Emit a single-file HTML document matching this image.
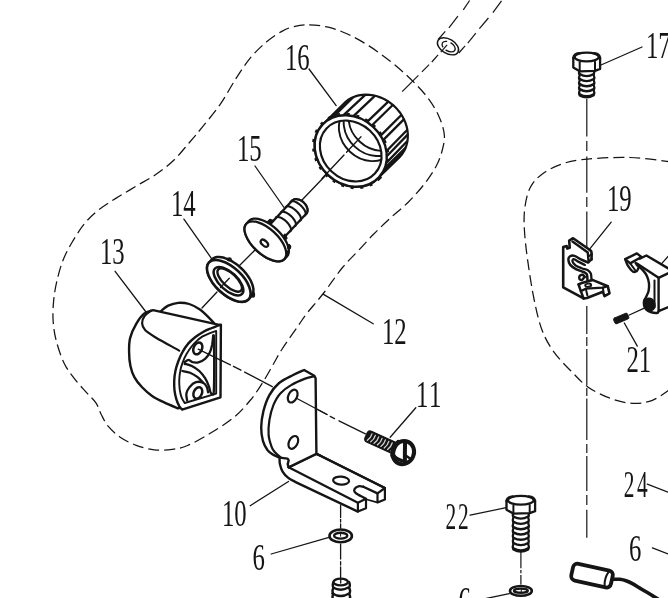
<!DOCTYPE html>
<html><head><meta charset="utf-8"><title>Parts diagram</title>
<style>
html,body{margin:0;padding:0;background:#fff;}
body{width:668px;height:598px;overflow:hidden;font-family:"Liberation Serif",serif;}
svg{display:block;filter:grayscale(1);}
</style></head><body>
<svg width="668" height="598" viewBox="0 0 668 598" stroke-linecap="round" stroke-linejoin="round">
<rect x="0" y="0" width="668" height="598" fill="#ffffff"/>
<path d="M309.2 24.9 C314.8 25 321.9 25.7 328.3 27.2 C334.7 28.7 340.7 30.9 347.5 34 C354.3 37.1 361.8 41.3 369 45.9 C376.2 50.5 383.8 56.1 390.6 61.5 C397.4 66.9 403.8 72.5 409.8 78.3 C415.8 84.1 421.7 90 426.5 96.2 C431.3 102.4 435.5 109 438.5 115.4 C441.5 121.8 443.7 128.8 444.3 134.6 C444.9 140.4 443.6 144.8 442.3 150 C441 155.2 439.3 160.3 436.3 166 C433.3 171.7 429 178.1 424.3 184.1 C419.6 190.1 413.9 196.5 408.2 202.2 C402.5 207.9 396 212.8 390.2 218.2 C384.4 223.5 378.8 228.9 373.5 234.3 C368.2 239.7 363.7 245 358.5 250.5 C353.3 256 348.4 260.3 342.5 267.5 C336.6 274.7 329.3 285.8 323.3 293.5 C317.3 301.2 310.7 308.5 306.7 313.6 C302.7 318.7 303.5 318.1 299.3 324.2 C295.1 330.3 285.7 343.5 281.5 350 C277.3 356.5 277.1 357.7 274 363 C270.9 368.3 266.9 375.8 263 382 C259.1 388.2 255.4 394.1 250.5 400 C245.6 405.9 240.3 412.1 233.5 417.7 C226.7 423.3 217.1 429.2 209.4 433.8 C201.8 438.4 193.8 442.9 187.6 445.5 C181.4 448.1 177.9 448.6 172.3 449.3 C166.8 450 160.3 450.6 154.3 449.9 C148.3 449.2 141.9 447.4 136.2 445.3 C130.5 443.2 124.9 440.4 120.2 437.2 C115.5 434 111.3 430 108.1 426.2 C104.9 422.4 103.1 418 101.1 414.2 C99.1 410.4 98.6 406.8 96.1 403.1 C93.6 399.4 89.8 396.3 86.1 392.1 C82.4 387.9 77.7 383 74 378.1 C70.3 373.2 67 369.3 64 363 C61 356.7 57.9 347.3 56.1 340.2 C54.3 333.1 53.5 326.9 53.1 320.2 C52.7 313.5 53 306.8 53.7 300.1 C54.4 293.4 55.5 286.8 57.1 280.1 C58.7 273.4 60.6 266.3 63.1 260 C65.6 253.7 68.6 248.3 72.1 242.3 C75.6 236.3 79.8 229.5 84.1 224.2 C88.4 218.8 92.8 214.5 98.2 210.2 C103.6 205.8 109.8 202.1 116.2 198.1 C122.6 194.1 129.6 190.1 136.3 186.1 C143 182.1 150.1 178.4 156.4 174.1 C162.7 169.8 168.6 165.2 174 160 C179.4 154.8 184.3 148.4 189 143 C193.7 137.6 196.9 133.8 202.1 127.4 C207.3 121 214.5 112.5 220.2 104.3 C225.9 96.1 231.2 85.9 236.2 78.2 C241.2 70.5 245.2 64.1 250.2 58.1 C255.2 52.1 260.9 46.6 266.3 42.1 C271.7 37.6 277.5 33.7 282.3 31.1 C287.1 28.5 290.5 27.3 295 26.3 C299.5 25.3 303.6 24.8 309.2 24.9 Z" fill="none" stroke="#151515" stroke-width="1.25" stroke-dasharray="11 5" stroke-linecap="butt"/>
<path d="M672 162 C665 161.2 644.1 158 630 157.5 C615.9 157 598.8 158.1 587.6 159.1 C576.4 160.1 570.4 161.2 562.9 163.6 C555.4 166 548.1 169.8 542.7 173.7 C537.3 177.6 533.4 181.6 530.4 187.2 C527.4 192.8 525.9 200.3 524.9 207.4 C523.9 214.5 523.9 221.1 524.4 229.8 C524.9 238.6 526 248.4 527.6 259.9 C529.2 271.4 531.6 287.3 534 299 C536.4 310.7 538.7 321.1 542 330 C545.3 338.9 549 345.1 554 352.1 C559 359.1 566.4 366.4 572.1 372.2 C577.8 378 581.9 382.8 588.2 387.2 C594.6 391.6 602.9 395.6 610.2 398.3 C617.6 401 625.3 403 632.3 403.3 C639.3 403.6 645.8 402.9 652.4 400.3 C659 397.8 668.7 390.1 672 388" fill="none" stroke="#151515" stroke-width="1.25" stroke-dasharray="11 5" stroke-linecap="butt"/>
<line x1="469.6" y1="0.5" x2="463.3" y2="9.9" stroke="#151515" stroke-width="1.2" stroke-linecap="butt"/>
<line x1="457.9" y1="16.2" x2="448.9" y2="27.8" stroke="#151515" stroke-width="1.2" stroke-linecap="butt"/>
<line x1="445.3" y1="31.4" x2="438.1" y2="39.5" stroke="#151515" stroke-width="1.2" stroke-linecap="butt"/>
<line x1="501.5" y1="0.8" x2="492.9" y2="12.6" stroke="#151515" stroke-width="1.2" stroke-linecap="butt"/>
<line x1="488.4" y1="18" x2="479.4" y2="28.7" stroke="#151515" stroke-width="1.2" stroke-linecap="butt"/>
<line x1="475.8" y1="33.2" x2="467.8" y2="43.1" stroke="#151515" stroke-width="1.2" stroke-linecap="butt"/>
<line x1="465.1" y1="45.8" x2="458.8" y2="53" stroke="#151515" stroke-width="1.2" stroke-linecap="butt"/>
<ellipse cx="448" cy="46.3" rx="11.6" ry="7.2" transform="rotate(31 448 46.3)" fill="none" stroke="#151515" stroke-width="1.4" />
<ellipse cx="448.6" cy="46.6" rx="7.2" ry="4.4" transform="rotate(31 448.6 46.6)" fill="none" stroke="#151515" stroke-width="1.3" stroke-dasharray="10 3.5" stroke-linecap="butt"/>
<line x1="447.1" y1="44.9" x2="440.8" y2="52.1" stroke="#151515" stroke-width="1.2" stroke-linecap="butt"/>
<line x1="438.1" y1="54.8" x2="431.8" y2="62" stroke="#151515" stroke-width="1.2" stroke-linecap="butt"/>
<line x1="429.1" y1="64.7" x2="421.9" y2="71.9" stroke="#151515" stroke-width="1.2" stroke-linecap="butt"/>
<line x1="418.4" y1="75.4" x2="402.2" y2="91.6" stroke="#151515" stroke-width="1.2" stroke-linecap="butt"/>
<line x1="361.5" y1="137" x2="326" y2="175" stroke="#151515" stroke-width="1.3" />
<line x1="326" y1="175" x2="302" y2="200" stroke="#151515" stroke-width="1.3" />
<line x1="258" y1="247" x2="239" y2="266" stroke="#151515" stroke-width="1.3" />
<line x1="229" y1="278" x2="220" y2="287" stroke="#151515" stroke-width="1.3" />
<line x1="217" y1="292" x2="202" y2="308" stroke="#151515" stroke-width="1.3" />
<line x1="586.8" y1="99" x2="586.8" y2="136.5" stroke="#151515" stroke-width="1.2" stroke-linecap="butt"/>
<line x1="586.8" y1="141" x2="586.8" y2="151" stroke="#151515" stroke-width="1.2" stroke-linecap="butt"/>
<line x1="586.8" y1="156.5" x2="586.8" y2="192.7" stroke="#151515" stroke-width="1.2" stroke-linecap="butt"/>
<line x1="586.8" y1="197" x2="586.8" y2="207" stroke="#151515" stroke-width="1.2" stroke-linecap="butt"/>
<line x1="586.8" y1="211.4" x2="586.8" y2="247" stroke="#151515" stroke-width="1.2" stroke-linecap="butt"/>
<line x1="586.8" y1="306" x2="586.8" y2="334" stroke="#151515" stroke-width="1.2" stroke-linecap="butt"/>
<line x1="586.8" y1="337" x2="586.8" y2="346" stroke="#151515" stroke-width="1.2" stroke-linecap="butt"/>
<line x1="586.8" y1="349" x2="586.8" y2="385" stroke="#151515" stroke-width="1.2" stroke-linecap="butt"/>
<line x1="586.8" y1="388" x2="586.8" y2="396" stroke="#151515" stroke-width="1.2" stroke-linecap="butt"/>
<line x1="586.8" y1="398.4" x2="586.8" y2="440" stroke="#151515" stroke-width="1.2" stroke-linecap="butt"/>
<line x1="586.8" y1="444" x2="586.8" y2="453" stroke="#151515" stroke-width="1.2" stroke-linecap="butt"/>
<line x1="586.8" y1="456" x2="586.8" y2="491" stroke="#151515" stroke-width="1.2" stroke-linecap="butt"/>
<line x1="586.8" y1="495" x2="586.8" y2="505" stroke="#151515" stroke-width="1.2" stroke-linecap="butt"/>
<line x1="586.8" y1="509.7" x2="586.8" y2="537.8" stroke="#151515" stroke-width="1.2" stroke-linecap="butt"/>
<line x1="198.2" y1="349.2" x2="230.4" y2="364.9" stroke="#151515" stroke-width="1.3" />
<line x1="233.4" y1="366.4" x2="240.9" y2="370.2" stroke="#151515" stroke-width="1.3" />
<line x1="244.6" y1="372.1" x2="272.3" y2="386.6" stroke="#151515" stroke-width="1.3" />
<line x1="296.5" y1="398.2" x2="327" y2="414.5" stroke="#151515" stroke-width="1.3" />
<line x1="330.2" y1="416.4" x2="334.5" y2="418.6" stroke="#151515" stroke-width="1.3" />
<line x1="339" y1="420.8" x2="365.4" y2="433.8" stroke="#151515" stroke-width="1.3" />
<line x1="340.6" y1="505" x2="340.6" y2="517.5" stroke="#151515" stroke-width="1.3" />
<line x1="340.6" y1="519.5" x2="340.6" y2="522" stroke="#151515" stroke-width="1.3" />
<line x1="340.6" y1="524" x2="340.6" y2="528" stroke="#151515" stroke-width="1.3" />
<line x1="340.6" y1="544.1" x2="340.6" y2="559.1" stroke="#151515" stroke-width="1.3" />
<line x1="340.6" y1="561.7" x2="340.6" y2="565" stroke="#151515" stroke-width="1.3" />
<line x1="340.6" y1="567" x2="340.6" y2="578.5" stroke="#151515" stroke-width="1.3" />
<line x1="520.9" y1="552" x2="520.9" y2="568.2" stroke="#151515" stroke-width="1.2" stroke-linecap="butt"/>
<line x1="520.9" y1="570" x2="520.9" y2="573.2" stroke="#151515" stroke-width="1.2" stroke-linecap="butt"/>
<line x1="520.9" y1="575" x2="520.9" y2="584.5" stroke="#151515" stroke-width="1.2" stroke-linecap="butt"/>
<line x1="309" y1="69" x2="336.2" y2="105.6" stroke="#151515" stroke-width="1.3" />
<line x1="255" y1="166" x2="284" y2="207.5" stroke="#151515" stroke-width="1.3" />
<line x1="183.9" y1="219.1" x2="211.4" y2="258.3" stroke="#151515" stroke-width="1.3" />
<line x1="115.1" y1="271.3" x2="146" y2="312" stroke="#151515" stroke-width="1.3" />
<line x1="323.1" y1="294.1" x2="373.2" y2="323.8" stroke="#151515" stroke-width="1.3" />
<line x1="415.8" y1="407.7" x2="390.2" y2="437.2" stroke="#151515" stroke-width="1.3" />
<line x1="250.2" y1="505.7" x2="288.5" y2="481.5" stroke="#151515" stroke-width="1.3" />
<line x1="271.2" y1="554" x2="329" y2="537.3" stroke="#151515" stroke-width="1.3" />
<line x1="470.1" y1="515.1" x2="506.2" y2="507.7" stroke="#151515" stroke-width="1.3" />
<line x1="601" y1="65" x2="642" y2="47" stroke="#151515" stroke-width="1.3" />
<line x1="611.2" y1="222.2" x2="590.2" y2="248.3" stroke="#151515" stroke-width="1.3" />
<line x1="624.3" y1="323" x2="637.3" y2="346.1" stroke="#151515" stroke-width="1.3" />
<line x1="647.3" y1="484.1" x2="668" y2="492.1" stroke="#151515" stroke-width="1.3" />
<line x1="652.4" y1="547.9" x2="668" y2="553.9" stroke="#151515" stroke-width="1.3" />
<line x1="486.5" y1="598.4" x2="509.3" y2="593.6" stroke="#151515" stroke-width="1.3" />
<line x1="661.2" y1="264.1" x2="668" y2="256.5" stroke="#151515" stroke-width="1.3" />
<g><text transform="translate(285 69.5) scale(0.66 1)" font-family="Liberation Serif, serif" font-size="37.5" fill="#151515" letter-spacing="0">16</text></g>
<g><text transform="translate(237 160.5) scale(0.66 1)" font-family="Liberation Serif, serif" font-size="37.5" fill="#151515" letter-spacing="0">15</text></g>
<g><text transform="translate(171 215.5) scale(0.66 1)" font-family="Liberation Serif, serif" font-size="37.5" fill="#151515" letter-spacing="0">14</text></g>
<g><text transform="translate(100 263.5) scale(0.66 1)" font-family="Liberation Serif, serif" font-size="37.5" fill="#151515" letter-spacing="0">13</text></g>
<g><text transform="translate(382 343.5) scale(0.66 1)" font-family="Liberation Serif, serif" font-size="37.5" fill="#151515" letter-spacing="0">12</text></g>
<g><text transform="translate(416 406.5) scale(0.66 1)" font-family="Liberation Serif, serif" font-size="37.5" fill="#151515" letter-spacing="2.5">11</text></g>
<g><text transform="translate(222 526) scale(0.66 1)" font-family="Liberation Serif, serif" font-size="37.5" fill="#151515" letter-spacing="0">10</text></g>
<g><text transform="translate(252.5 570) scale(0.66 1)" font-family="Liberation Serif, serif" font-size="37.5" fill="#151515" letter-spacing="0">6</text></g>
<g><text transform="translate(445.5 528.5) scale(0.57 1)" font-family="Liberation Serif, serif" font-size="37.5" fill="#151515" letter-spacing="3.2">22</text></g>
<g><text transform="translate(646 57.5) scale(0.66 1)" font-family="Liberation Serif, serif" font-size="37.5" fill="#151515" letter-spacing="0">17</text></g>
<g><text transform="translate(607 210.5) scale(0.66 1)" font-family="Liberation Serif, serif" font-size="37.5" fill="#151515" letter-spacing="0">19</text></g>
<g><text transform="translate(626.5 371.5) scale(0.66 1)" font-family="Liberation Serif, serif" font-size="37.5" fill="#151515" letter-spacing="0">21</text></g>
<g><text transform="translate(623.8 497.3) scale(0.57 1)" font-family="Liberation Serif, serif" font-size="37.5" fill="#151515" letter-spacing="4.2">24</text></g>
<g><text transform="translate(629 561) scale(0.66 1)" font-family="Liberation Serif, serif" font-size="37.5" fill="#151515" letter-spacing="0">6</text></g>
<g><text transform="translate(458.5 613) scale(0.66 1)" font-family="Liberation Serif, serif" font-size="37.5" fill="#151515" letter-spacing="0">6</text></g>
<path d="M378.9 177.3 L376.4 179.7 L373.6 181.8 L370.6 183.5 L367.3 184.9 L363.9 185.9 L360.3 186.5 L356.6 186.7 L352.9 186.6 L349.1 186 L345.3 185.1 L341.6 183.8 L338 182.1 L334.6 180.1 L331.3 177.8 L328.2 175.1 L325.4 172.3 L322.8 169.1 L320.6 165.8 L318.7 162.3 L317.1 158.7 L315.9 155.1 L315.1 151.3 L314.7 147.6 L314.6 143.9 L315 140.3 L315.8 136.8 L316.9 133.4 L318.4 130.3 L320.3 127.3 L322.5 124.7 L343.5 104 L346 101.6 L348.8 99.5 L351.9 97.8 L355.1 96.4 L358.6 95.4 L362.2 94.8 L365.8 94.6 L369.6 94.8 L373.4 95.3 L377.1 96.2 L380.8 97.6 L384.5 99.2 L387.9 101.2 L391.2 103.6 L394.3 106.2 L397.1 109.1 L399.7 112.2 L401.9 115.5 L403.8 119 L405.4 122.6 L406.6 126.3 L407.4 130 L407.8 133.7 L407.8 137.4 L407.5 141 L406.7 144.5 L405.6 147.9 L404.1 151 L402.2 154 L400 156.6 Z" fill="#fff" stroke="#151515" stroke-width="2.2" />
<line x1="343.8" y1="114.8" x2="365" y2="95.1" stroke="#151515" stroke-width="2.3" />
<line x1="353.7" y1="115.8" x2="374.6" y2="96.1" stroke="#151515" stroke-width="2.3" />
<line x1="367.4" y1="121.7" x2="388" y2="101.9" stroke="#151515" stroke-width="2.3" />
<line x1="372.1" y1="125.2" x2="392.5" y2="105.3" stroke="#151515" stroke-width="2.3" />
<line x1="380.9" y1="135.4" x2="401.1" y2="115.2" stroke="#151515" stroke-width="2.3" />
<line x1="383.4" y1="139.9" x2="403.6" y2="119.6" stroke="#151515" stroke-width="2.3" />
<line x1="386.8" y1="150.8" x2="406.9" y2="130.2" stroke="#151515" stroke-width="2.3" />
<line x1="387.3" y1="155.7" x2="407.4" y2="134.9" stroke="#151515" stroke-width="2.3" />
<line x1="386.8" y1="162.4" x2="406.9" y2="141.5" stroke="#151515" stroke-width="2.3" />
<path d="M322.5 124.7 L324.8 122.5 L327.3 120.6 L330 118.9 L333 117.6 L354 96.9 L351.1 98.2 L348.4 99.9 L345.8 101.8 L343.5 104 Z" fill="#151515" stroke="#151515" stroke-width="1.5" />
<path d="M384.9 167.5 L383.8 170.2 L382.4 172.7 L380.8 175.1 L378.9 177.3 L400 156.6 L401.9 154.4 L403.5 152 L404.9 149.5 L406 146.8 Z" fill="#151515" stroke="#151515" stroke-width="1.5" />
<ellipse cx="350.7" cy="151" rx="38.6" ry="33.0" transform="rotate(43 350.7 151)" fill="#fff" stroke="#151515" stroke-width="2.4"/>
<ellipse cx="350.7" cy="151" rx="39.800000000000004" ry="34.2" transform="rotate(43 350.7 151)" fill="none" stroke="#151515" stroke-width="2.8" stroke-dasharray="3 6.6" stroke-linecap="butt"/>
<clipPath id="c16"><ellipse cx="350.7" cy="151" rx="33.1" ry="28.0" transform="rotate(43 350.7 151)"/></clipPath>
<g clip-path="url(#c16)">
<ellipse cx="367.7" cy="132.7" rx="31" ry="26" transform="rotate(43 367.7 132.7)" fill="none" stroke="#151515" stroke-width="1.9"/>
<ellipse cx="372.5" cy="127.6" rx="31" ry="26" transform="rotate(43 372.5 127.6)" fill="none" stroke="#151515" stroke-width="1.9"/>
<ellipse cx="377.3" cy="122.5" rx="31" ry="26" transform="rotate(43 377.3 122.5)" fill="none" stroke="#151515" stroke-width="1.9"/>
</g>
<ellipse cx="350.7" cy="151" rx="33.1" ry="28.0" transform="rotate(43 350.7 151)" fill="none" stroke="#151515" stroke-width="2.2"/>
<line x1="361" y1="136.8" x2="346.5" y2="152.3" stroke="#151515" stroke-width="1.3" />
<line x1="344" y1="155" x2="322" y2="178.5" stroke="#151515" stroke-width="1.3" />
<path d="M292.1 200.7 C292.4 200.5 293 199.9 293.5 199.7 C294.1 199.4 294.7 199.3 295.3 199.2 C295.9 199.1 296.6 199.1 297.3 199.3 C298 199.4 298.8 199.6 299.5 199.9 C300.2 200.1 300.9 200.5 301.6 201 C302.3 201.4 303 201.9 303.6 202.5 C304.2 203.1 304.8 203.7 305.3 204.4 C305.7 205 306.2 205.7 306.5 206.4 C306.8 207.1 307.1 207.8 307.3 208.5 C307.4 209.2 307.5 209.9 307.5 210.5 C307.4 211.2 307.3 211.8 307.1 212.3 C306.9 212.9 306.3 213.6 306.2 213.8" fill="#fff" stroke="#151515" stroke-width="2.3" />
<path d="M263.5 231.4 L292.1 200.7 L293.5 199.7 L295.3 199.2 L297.3 199.3 L299.5 199.9 L301.6 201 L303.6 202.5 L305.3 204.4 L306.5 206.4 L307.3 208.5 L307.5 210.5 L307.1 212.3 L306.2 213.8 L277.5 244.5 Z" fill="#fff" stroke="#fff" stroke-width="0.1" />
<path d="M263.5 231.4 L292.1 200.7" fill="none" stroke="#151515" stroke-width="2.3" />
<path d="M277.5 244.5 L306.2 213.8" fill="none" stroke="#151515" stroke-width="2.3" />
<path d="M292.1 200.7 C292.4 200.5 293 199.9 293.5 199.7 C294.1 199.4 294.7 199.3 295.3 199.2 C295.9 199.1 296.6 199.1 297.3 199.3 C298 199.4 298.8 199.6 299.5 199.9 C300.2 200.1 300.9 200.5 301.6 201 C302.3 201.4 303 201.9 303.6 202.5 C304.2 203.1 304.8 203.7 305.3 204.4 C305.7 205 306.2 205.7 306.5 206.4 C306.8 207.1 307.1 207.8 307.3 208.5 C307.4 209.2 307.5 209.9 307.5 210.5 C307.4 211.2 307.3 211.8 307.1 212.3 C306.9 212.9 306.3 213.6 306.2 213.8" fill="#fff" stroke="#151515" stroke-width="2.3" />
<path d="M275.9 217.5 L276.9 217 L278.3 216.9 L280.1 217.4 L282 218.3 L284.1 219.6 L286.1 221.3 L287.9 223.2 L289.3 225.1 L290.4 227 L291 228.7 L291 230.2 L290.5 231.2" fill="none" stroke="#151515" stroke-width="2.1" />
<path d="M280.8 212.3 L281.8 211.7 L283.2 211.7 L285 212.1 L286.9 213 L289 214.4 L291 216 L292.8 217.9 L294.2 219.8 L295.3 221.7 L295.9 223.5 L295.9 224.9 L295.4 225.9" fill="none" stroke="#151515" stroke-width="2.1" />
<path d="M285.8 206.9 L286.8 206.3 L288.3 206.2 L290 206.7 L292 207.6 L294 209 L296 210.6 L297.8 212.5 L299.3 214.4 L300.4 216.3 L300.9 218.1 L301 219.5 L300.5 220.5" fill="none" stroke="#151515" stroke-width="2.1" />
<path d="M290.6 201.7 L291.6 201.2 L293 201.1 L294.8 201.6 L296.8 202.5 L298.8 203.8 L300.8 205.5 L302.6 207.4 L304.1 209.3 L305.1 211.2 L305.7 212.9 L305.7 214.4 L305.2 215.4" fill="none" stroke="#151515" stroke-width="2.1" />
<path d="M264.4 225.4 L269.9 219.6 L273.4 220.8 L266.9 227.8 Z" fill="#151515" stroke="#151515" stroke-width="1.6" />
<path d="M282 243.2 L286.8 238.1 L285 234.3 L279.2 240.6 Z" fill="#151515" stroke="#151515" stroke-width="1.6" />
<path d="M284.4 259.1 L283.1 260.2 L281.5 260.9 L279.7 261.3 L277.6 261.4 L275.3 261.1 L272.8 260.5 L270.2 259.5 L267.5 258.2 L264.7 256.7 L262 254.9 L259.4 252.9 L256.8 250.6 L254.4 248.2 L252.2 245.7 L250.2 243.1 L248.5 240.5 L247 237.9 L245.9 235.4 L245.1 232.9 L244.6 230.7 L244.5 228.5 L244.8 226.7 L245.4 225 L246.4 223.7 L249 220.9 L250.3 219.8 L251.8 219.1 L253.7 218.7 L255.8 218.7 L258.1 218.9 L260.6 219.6 L263.2 220.5 L265.9 221.8 L268.7 223.3 L271.4 225.1 L274 227.2 L276.6 229.4 L279 231.8 L281.2 234.3 L283.2 236.9 L284.9 239.5 L286.4 242.1 L287.5 244.6 L288.3 247.1 L288.8 249.4 L288.8 251.5 L288.6 253.4 L288 255 L287 256.4 Z" fill="#fff" stroke="#151515" stroke-width="2.3" />
<ellipse cx="265.4" cy="241.4" rx="26" ry="12.6" transform="rotate(43 265.4 241.4)" fill="#fff" stroke="#151515" stroke-width="2.3" />
<ellipse cx="264.4" cy="243.2" rx="4.4" ry="2.5" transform="rotate(43 264.4 243.2)" fill="none" stroke="#151515" stroke-width="2.3" />
<path d="M286.2 252.7 L286.3 254 L286.2 255.2 L285.9 256.4 L285.6 257.4 L285.1 258.3 L284.4 259.1 L287 256.4 L287.6 255.5 L288.1 254.6 L288.5 253.6 L288.8 252.5 L288.9 251.3 L288.8 250 Z" fill="#151515" stroke="#151515" stroke-width="1.2" />
<ellipse cx="289.1" cy="246.9" rx="1.6" ry="2.6" transform="rotate(0 289.1 246.9)" fill="#151515" stroke="#151515" stroke-width="1" />
<path d="M248.5 299.3 L247.2 300.4 L245.5 301.2 L243.5 301.7 L241.3 301.8 L238.9 301.5 L236.3 300.9 L233.5 299.9 L230.7 298.7 L227.9 297.1 L225 295.2 L222.2 293.1 L219.6 290.8 L217.1 288.3 L214.8 285.7 L212.7 283 L211 280.2 L209.5 277.5 L208.3 274.9 L207.5 272.3 L207.1 269.9 L207 267.7 L207.3 265.7 L208 263.9 L209.1 262.5 L211.9 259.4 L213.3 258.3 L215 257.5 L216.9 257 L219.2 256.9 L221.6 257.2 L224.2 257.8 L226.9 258.8 L229.8 260.1 L232.6 261.7 L235.4 263.5 L238.2 265.6 L240.9 268 L243.4 270.4 L245.7 273.1 L247.7 275.8 L249.5 278.5 L251 281.2 L252.1 283.9 L252.9 286.4 L253.4 288.8 L253.4 291.1 L253.1 293.1 L252.4 294.8 L251.4 296.2 Z" fill="#fff" stroke="#151515" stroke-width="2.5" />
<ellipse cx="228.8" cy="280.9" rx="27" ry="13.5" transform="rotate(43 228.8 280.9)" fill="#fff" stroke="#151515" stroke-width="2.6" />
<ellipse cx="228.5" cy="281.2" rx="18.6" ry="8.8" transform="rotate(43 228.5 281.2)" fill="none" stroke="#151515" stroke-width="2.5" />
<ellipse cx="229.7" cy="280" rx="15.6" ry="6.6" transform="rotate(43 229.7 280)" fill="none" stroke="#151515" stroke-width="2.4" />
<ellipse cx="229.3" cy="259.4" rx="2" ry="1.5" transform="rotate(0 229.3 259.4)" fill="#151515" stroke="#151515" stroke-width="1.2" />
<ellipse cx="253.1" cy="294.7" rx="1.5" ry="2.4" transform="rotate(0 253.1 294.7)" fill="#151515" stroke="#151515" stroke-width="1.2" />
<line x1="229.3" y1="278.3" x2="220.5" y2="287.5" stroke="#151515" stroke-width="1.3" />
<path d="M160.2 311.7 C161.5 310.7 165.2 307.1 168.2 305.6 C171.2 304.2 174.7 303.1 178.2 302.8 C181.7 302.6 185.6 302.9 189.2 304 C192.9 305.2 196.6 307 200.3 309.7 C203.9 312.3 208.6 317.3 211.3 320.1 C214 322.8 215.5 325.1 216.3 326.1" fill="#fff" stroke="#151515" stroke-width="2.3" />
<path d="M220.3 325.1 L153.1 310.1 L153.1 310.1 C151.6 310.7 146.9 311.3 144.1 313.7 C141.3 316 138.4 320 136.1 324.1 C133.7 328.2 131.2 333.5 130.1 338.1 C128.9 342.8 129 347.5 129.1 352.2 C129.1 356.9 129.6 362 130.5 366.2 C131.4 370.4 132.5 373.8 134.5 377.3 C136.4 380.8 139.2 384.2 142.1 387.3 C145 390.4 148.4 393.4 152.1 395.9 C155.8 398.4 159.8 400.3 164.2 402.3 C168.5 404.4 175.9 407.4 178.2 408.4 L219.3 394.7 L220.3 325.1 Z" fill="#fff" stroke="#151515" stroke-width="2.4" />
<path d="M151.1 310.7 C150 311.6 146 314 144.5 316.1 C143 318.2 142 320.8 142.1 323.1 C142.2 325.4 142.8 327.7 145.1 330.1 C147.4 332.6 150.5 334.3 156.1 337.7 C161.8 341.2 175.4 348.4 179.2 350.6" fill="none" stroke="#151515" stroke-width="2.2" />
<path d="M220.5 324.7 C219.1 325.3 214.7 326.9 211.8 328 C209 329.2 206.2 330.2 203.5 331.7 C200.7 333.3 197.6 335.3 195.1 337.2 C192.6 339.2 190.5 341 188.4 343.4 C186.3 345.9 184.2 348.9 182.6 351.8 C180.9 354.7 179.6 357.8 178.4 361 C177.2 364.2 176.1 367.7 175.4 371 C174.7 374.4 174.3 377.8 174.2 381.1 C174.1 384.3 174.2 387.2 174.5 390.3 C174.9 393.3 175.6 396.8 176.4 399.4 C177.2 402.1 178.3 404.4 179.2 406.1 C180.2 407.8 181.6 409.1 182.1 409.6 L220.5 397.3 L220.9 324.7 Z" fill="#fff" stroke="#151515" stroke-width="2.4" />
<path d="M216.2 330.9 C215 331.3 211.6 332.5 209.3 333.4 C207.1 334.3 204.7 335.2 202.6 336.4 C200.5 337.7 198.6 339.2 196.8 340.9 C194.9 342.6 193.1 344.5 191.4 346.8 C189.7 349 187.9 351.6 186.4 354.3 C184.9 356.9 183.6 359.7 182.6 362.7 C181.5 365.6 180.6 368.8 180.1 371.9 C179.5 374.9 179.3 378.1 179.2 381.1 C179.2 384 179.4 386.8 179.7 389.4 C180.1 392.1 180.6 394.7 181.4 396.9 C182.2 399.2 184.2 402 184.7 403 L216.2 393.6 L216.2 330.9 Z" fill="none" stroke="#151515" stroke-width="1.9" />
<ellipse cx="197.8" cy="348.4" rx="4.2" ry="6.2" transform="rotate(24 197.8 348.4)" fill="none" stroke="#151515" stroke-width="2.5" />
<ellipse cx="197.8" cy="392.9" rx="4.1" ry="6" transform="rotate(24 197.8 392.9)" fill="none" stroke="#151515" stroke-width="2.5" />
<path d="M213.2 335.4 C213 336.9 212.7 341.4 212.2 344.3 C211.6 347.1 211 350.2 209.8 352.6 C208.6 355.1 207 357.2 205.1 358.8 C203.2 360.4 200.5 361.8 198.4 362.3 C196.4 362.9 194.3 362.6 192.6 362.2 C190.9 361.7 189.7 359.8 188.4 359.8 C187.1 359.8 185.3 361.8 184.7 362.2" fill="none" stroke="#151515" stroke-width="2.3" />
<path d="M184.7 363.8 C185.9 364.2 189.3 364.8 191.8 366 C194.2 367.2 197.1 369 199.3 371 C201.5 373.1 203.5 375.7 205.1 378.2 C206.7 380.7 207.9 383.7 208.8 386.1 C209.7 388.4 209.9 390.9 210.5 392.3 C211.1 393.6 211.9 394.5 212.5 394.3 C213 394.1 213.6 395.9 213.8 391.1 C214.1 386.2 214.2 374.4 214.2 365.2 C214.2 355.9 213.9 340.4 213.8 335.4" fill="none" stroke="#151515" stroke-width="2.3" />
<path d="M182.4 371 C183.7 371.3 187.5 371.7 190.1 372.7 C192.6 373.7 195.4 375.5 197.6 377.2 C199.8 378.9 202.2 381.8 203.1 382.7" fill="none" stroke="#151515" stroke-width="2.3" />
<path d="M187.1 400.3 C187 399.2 186 395.8 186.4 393.6 C186.9 391.4 188.2 388.8 189.7 386.9 C191.3 385 193.7 382.9 195.9 382.2 C198.2 381.5 201.3 381.9 203.1 382.7 C204.9 383.5 206 385.3 206.8 386.9 C207.6 388.5 207.9 391.4 208.1 392.3" fill="none" stroke="#151515" stroke-width="2.3" />
<line x1="198.2" y1="349.2" x2="222" y2="360.8" stroke="#151515" stroke-width="1.3" />
<path d="M288.6 467.3 L316.4 453.8 L384.9 488 L384.9 499.5 L377.5 502.2 L377.5 495.4 L366 500.8 L366 508.2 L357.9 511.6 L295.1 481.8 L288.3 477.9 L282.6 471.6 L279.9 464.1 L279.6 457.6 Z" fill="#fff" stroke="#fff" stroke-width="0.5" />
<path d="M279.6 457.6 C279.6 458.7 279.4 461.8 279.9 464.1 C280.4 466.4 281.2 469.3 282.6 471.6 C284 473.9 286.2 476.3 288.3 477.9 C290.4 479.6 294 481.1 295.1 481.8 L357.9 511.6" fill="none" stroke="#151515" stroke-width="2.4" />
<path d="M288.6 467.3 L316.4 453.8 L384.9 488" fill="none" stroke="#151515" stroke-width="2.3" />
<path d="M316.4 453.8 L384.9 488 L377.5 493.4 L363.3 486.7" fill="none" stroke="#151515" stroke-width="2.3" />
<path d="M363.3 486.7 C362.7 486.6 360.5 485.9 359.3 486.1 C358 486.3 356.6 487 355.8 487.7 C354.9 488.5 354.2 489.5 354.2 490.4 C354.2 491.3 354.9 492.3 355.8 493.1 C356.6 493.9 358.7 494.8 359.3 495.2" fill="none" stroke="#151515" stroke-width="2.3" />
<path d="M359.3 495.2 L366 498.8 L357.9 502.8 L288.6 467.3" fill="none" stroke="#151515" stroke-width="2.3" />
<path d="M384.9 488 L384.9 499.5 L377.5 502.4 L377.5 493.4" fill="none" stroke="#151515" stroke-width="2.2" />
<path d="M357.9 502.8 L357.9 511.6 L366 508.2 L366 498.8" fill="none" stroke="#151515" stroke-width="2.2" />
<path d="M366.8 499.5 L377.1 502.4" fill="none" stroke="#151515" stroke-width="1.8" />
<ellipse cx="341.1" cy="480.6" rx="8" ry="4" transform="rotate(4 341.1 480.6)" fill="none" stroke="#151515" stroke-width="2.2" />
<path d="M304.1 370 C302.3 370.8 297.3 372.9 293.1 375 C288.9 377.2 283 379.7 279.1 383 C275.1 386.4 272 390.4 269.4 395.1 C266.8 399.8 264.8 405.8 263.4 411.1 C262.1 416.5 261.3 422.1 261.2 427.2 C261.1 432.2 262 437.4 263 441.2 C264.1 445 265.8 447.8 267.4 450 C269.1 452.2 271 453.3 273 454.6 C275.1 455.8 278.5 457.1 279.6 457.6 L287.6 458.6 L288.7 460.3 L287.7 464.1 L288.6 467.3 L316.4 453.8 L315.6 378.2 L314.3 375.8 Z" fill="#fff" stroke="#151515" stroke-width="2.4" />
<path d="M314.3 376.2 C312.8 376.6 309 377.2 305.1 378.6 C301.2 380.1 295.2 382.6 291.1 385.1 C286.9 387.5 283.2 390.1 280.3 393.5 C277.3 396.8 275.3 400.7 273.4 405.1 C271.6 409.5 270.2 415.1 269.4 420.1 C268.6 425.2 268.3 430.7 268.6 435.2 C269 439.6 270.6 444 271.6 446.8 C272.7 449.7 273.5 450.4 275 452.3 C276.6 454.1 280.1 456.8 281.1 457.7" fill="none" stroke="#151515" stroke-width="2.2" />
<ellipse cx="292.7" cy="396.1" rx="4.3" ry="6.8" transform="rotate(26 292.7 396.1)" fill="none" stroke="#151515" stroke-width="2.2" />
<ellipse cx="293.3" cy="442.4" rx="4.3" ry="6.8" transform="rotate(26 293.3 442.4)" fill="none" stroke="#151515" stroke-width="2.2" />
<line x1="316.4" y1="453.8" x2="320.5" y2="455.7" stroke="#151515" stroke-width="2.3" />
<line x1="296.5" y1="398.2" x2="327" y2="414.5" stroke="#151515" stroke-width="1.3" />
<g transform="translate(366.1 435.3) rotate(24.5)">
<rect x="0" y="-5.9" width="33" height="11.8" rx="3.2" fill="#151515" stroke="#151515" stroke-width="1.2"/>
<path d="M4.7 -3.8 Q5.4 0 3.2 4.0" stroke="#d4d4d4" stroke-width="1.3" fill="none"/>
<path d="M8.4 -3.8 Q9.1 0 6.9 4.0" stroke="#d4d4d4" stroke-width="1.3" fill="none"/>
<path d="M12.1 -3.8 Q12.8 0 10.6 4.0" stroke="#d4d4d4" stroke-width="1.3" fill="none"/>
<path d="M15.8 -3.8 Q16.5 0 14.3 4.0" stroke="#d4d4d4" stroke-width="1.3" fill="none"/>
<path d="M19.5 -3.8 Q20.2 0 18 4.0" stroke="#d4d4d4" stroke-width="1.3" fill="none"/>
<path d="M23.2 -3.8 Q23.9 0 21.7 4.0" stroke="#d4d4d4" stroke-width="1.3" fill="none"/>
<path d="M26.9 -3.8 Q27.6 0 25.4 4.0" stroke="#d4d4d4" stroke-width="1.3" fill="none"/>
<path d="M30.6 -3.8 Q31.3 0 29.1 4.0" stroke="#d4d4d4" stroke-width="1.3" fill="none"/>
<ellipse cx="41" cy="0.3" rx="10.6" ry="11.8" fill="#fff" stroke="#151515" stroke-width="4"/>
<path d="M38.5 -9.5 Q42.5 0 47 9.5" stroke="#151515" stroke-width="4" fill="none"/>
<path d="M44 2 L51 3.2" stroke="#151515" stroke-width="2.4" fill="none"/>
<path d="M32 -7 Q29.5 0 32.5 7.5" stroke="#151515" stroke-width="4.5" fill="none"/>
<path d="M33 6.5 Q37 9.5 43 8.2" stroke="#151515" stroke-width="3.5" fill="none"/>
</g>
<path d="M579.7 70 q-1.3 2.5 0 5.1 q-1.3 2.5 0 5.1 q-1.3 2.5 0 5.1 q-1.3 2.5 0 5.1 q-1.3 2.5 0 5.1 Q586.7 99.5 593.7 95.3 q1.3 -2.5 0 -5.1 q1.3 -2.5 0 -5.1 q1.3 -2.5 0 -5.1 q1.3 -2.5 0 -5.1 q1.3 -2.5 0 -5.1 Z" fill="#fff" stroke="#151515" stroke-width="2.3" />
<path d="M579.7 74 Q586.7 78.2 593.7 74" fill="none" stroke="#151515" stroke-width="2.4" />
<path d="M579.7 79 Q586.7 83.2 593.7 79" fill="none" stroke="#151515" stroke-width="2.4" />
<path d="M579.7 84.1 Q586.7 88.3 593.7 84.1" fill="none" stroke="#151515" stroke-width="2.4" />
<path d="M579.7 89.1 Q586.7 93.3 593.7 89.1" fill="none" stroke="#151515" stroke-width="2.4" />
<path d="M579.7 94.2 Q586.7 98.4 593.7 94.2" fill="none" stroke="#151515" stroke-width="2.4" />
<path d="M573.3 57.8 L573.3 67.5 L579.7 71.3 L595 70.8 L600.1 68.9 L600.1 57.8 Z" fill="#fff" stroke="#151515" stroke-width="2.3" />
<ellipse cx="586.7" cy="57" rx="12.1" ry="4.4" transform="rotate(0 586.7 57)" fill="#fff" stroke="#151515" stroke-width="2.3" />
<path d="M573.3 57.8 Q573.8 53.8 579.3 53.2" fill="none" stroke="#151515" stroke-width="2.3" />
<path d="M600.1 57.8 Q599.6 53.8 594.1 53.2" fill="none" stroke="#151515" stroke-width="2.3" />
<line x1="579.7" y1="71.3" x2="579.7" y2="62.2" stroke="#151515" stroke-width="1.9999999999999998" />
<line x1="595" y1="70.8" x2="595" y2="61.8" stroke="#151515" stroke-width="1.9999999999999998" />
<path d="M513.4 512.3 q-1.3 2.7 0 5.3 q-1.3 2.7 0 5.3 q-1.3 2.7 0 5.3 q-1.3 2.7 0 5.3 q-1.3 2.7 0 5.3 q-1.3 2.7 0 5.3 q-1.3 2.7 0 5.3 Q520.8 553.6 528.2 549.4 q1.3 -2.7 0 -5.3 q1.3 -2.7 0 -5.3 q1.3 -2.7 0 -5.3 q1.3 -2.7 0 -5.3 q1.3 -2.7 0 -5.3 q1.3 -2.7 0 -5.3 q1.3 -2.7 0 -5.3 Z" fill="#fff" stroke="#151515" stroke-width="2.3" />
<path d="M513.4 516.5 Q520.8 520.7 528.2 516.5" fill="none" stroke="#151515" stroke-width="2.4" />
<path d="M513.4 521.8 Q520.8 526 528.2 521.8" fill="none" stroke="#151515" stroke-width="2.4" />
<path d="M513.4 527.1 Q520.8 531.3 528.2 527.1" fill="none" stroke="#151515" stroke-width="2.4" />
<path d="M513.4 532.4 Q520.8 536.6 528.2 532.4" fill="none" stroke="#151515" stroke-width="2.4" />
<path d="M513.4 537.7 Q520.8 541.9 528.2 537.7" fill="none" stroke="#151515" stroke-width="2.4" />
<path d="M513.4 543 Q520.8 547.2 528.2 543" fill="none" stroke="#151515" stroke-width="2.4" />
<path d="M513.4 548.3 Q520.8 552.5 528.2 548.3" fill="none" stroke="#151515" stroke-width="2.4" />
<path d="M506.5 501 L506.5 509.8 L513.4 513.6 L529.7 513.1 L535.1 511.2 L535.1 501 Z" fill="#fff" stroke="#151515" stroke-width="2.3" />
<ellipse cx="520.8" cy="500.2" rx="12.9" ry="4.4" transform="rotate(0 520.8 500.2)" fill="#fff" stroke="#151515" stroke-width="2.3" />
<path d="M506.5 501 Q507 497 512.9 496.4" fill="none" stroke="#151515" stroke-width="2.3" />
<path d="M535.1 501 Q534.6 497 528.7 496.4" fill="none" stroke="#151515" stroke-width="2.3" />
<line x1="513.4" y1="513.6" x2="513.4" y2="505.4" stroke="#151515" stroke-width="1.9999999999999998" />
<line x1="529.7" y1="513.1" x2="529.7" y2="505" stroke="#151515" stroke-width="1.9999999999999998" />
<path d="M333.5 582 q-1.5 3 0 6 q-2 3 0 6 q-2 3 0 6 L349.1 600 q2 -3 0 -6 q2 -3 0 -6 q1.5 -3 0 -6" fill="#fff" stroke="#151515" stroke-width="2.4" />
<ellipse cx="340.7" cy="582" rx="7.2" ry="3.3" transform="rotate(0 340.7 582)" fill="#fff" stroke="#151515" stroke-width="2.3" />
<path d="M333.1 587.5 Q340.7 592 348.3 587.5" fill="none" stroke="#151515" stroke-width="2.3" />
<path d="M332.3 593.5 Q340.7 598.5 349.1 593.5" fill="none" stroke="#151515" stroke-width="2.3" />
<line x1="340.7" y1="579.5" x2="340.7" y2="583" stroke="#151515" stroke-width="1.3" />
<ellipse cx="340.7" cy="535.9" rx="11.2" ry="6.4" transform="rotate(0 340.7 535.9)" fill="#fff" stroke="#151515" stroke-width="2.6" />
<ellipse cx="340.7" cy="535.7" rx="6.6" ry="2.9" transform="rotate(0 340.7 535.7)" fill="#fff" stroke="#151515" stroke-width="2.4" />
<line x1="340.6" y1="532.5" x2="340.6" y2="536.2" stroke="#151515" stroke-width="1.0" />
<ellipse cx="520.9" cy="590.9" rx="10.9" ry="4.9" transform="rotate(0 520.9 590.9)" fill="#fff" stroke="#151515" stroke-width="2.6" />
<ellipse cx="520.9" cy="590.7" rx="6.9" ry="2.1" transform="rotate(0 520.9 590.7)" fill="#fff" stroke="#151515" stroke-width="2.4" />
<line x1="521.3" y1="588.5" x2="521.3" y2="591.5" stroke="#151515" stroke-width="1.0" />
<path d="M563.2 247 L566.7 246.1 L567.2 248.6 L569.7 247.7 L569.2 240.6 L573.1 238.2 L589.6 249.8 L591.5 252.5 L591.5 259.4 L588.6 262 L589.1 272.4 L592.4 279 L607.8 286.2 L609.5 293.4 L604.5 296.1 L602.9 291.7 L586.9 298 L583.6 298.4 L563.2 287.3 Z" fill="#fff" stroke="#fff" stroke-width="0.5" />
<path d="M583.6 298.4 L563.2 287.3 L563.2 247 L566.7 246.1 L567.2 248.6 L569.7 247.7 L569.2 240.6 L573.1 238.2 L589.6 249.8" fill="none" stroke="#151515" stroke-width="2.6" />
<path d="M589.6 249.8 C589.9 250.1 591 250.7 591.3 251.4 C591.6 252.2 591.6 252.9 591.6 254.2 C591.7 255.5 591.5 258.5 591.5 259.4" fill="none" stroke="#151515" stroke-width="2.6" />
<path d="M591.5 259.4 L588.6 262 L587.8 252.5 L572.5 241.5" fill="none" stroke="#151515" stroke-width="2.4" />
<path d="M588.2 256.7 L591.5 254.3" fill="none" stroke="#151515" stroke-width="2.0" />
<path d="M588.2 262.5 C587.1 262 583.6 260.8 581.4 259.7 C579.1 258.6 576.4 256.4 574.5 255.9 C572.7 255.3 571.1 255.7 570.1 256.3 C569.1 256.9 568.3 258.3 568.4 259.7 C568.4 261.1 569.1 263.3 570.3 264.9 C571.6 266.5 573.6 267.9 575.9 269.1 C578.1 270.3 581.7 271.1 583.6 272 C585.4 272.8 586.2 272.9 586.9 274.4 C587.5 275.8 587.4 279.6 587.5 280.7" fill="none" stroke="#151515" stroke-width="2.5" />
<path d="M584.9 264.9 C583.8 264.3 579.9 262.5 578.1 261.6 C576.2 260.6 574.8 259.2 573.9 259.2 C572.9 259.1 572.3 260.3 572.5 261.4 C572.8 262.4 573.9 264.2 575.4 265.3 C576.9 266.5 579.5 267.4 581.6 268.2 C583.7 269.1 586.7 269.5 588.2 270.4 C589.7 271.3 590.3 272.1 590.9 273.7 C591.4 275.3 591.4 279 591.5 280.1" fill="none" stroke="#151515" stroke-width="2.3" />
<path d="M584.9 277 C584.5 276.7 583.3 275 582.5 274.8 C581.6 274.6 580.2 275.3 579.7 275.9 C579.2 276.6 579 278.1 579.4 278.8 C579.8 279.5 581.3 280 582 279.9 C582.7 279.8 583.3 278.4 583.6 278.1" fill="none" stroke="#151515" stroke-width="2.5" />
<path d="M578.6 284.5 L581.9 282.9 L592.4 279.9 L607.8 286.2 L609.5 293.4 L604.5 296.1 L602.9 291.7 L586.9 298 L583.6 298.4" fill="none" stroke="#151515" stroke-width="2.6" />
<path d="M578.6 284.5 L580.8 291.1 L583.6 298.4" fill="none" stroke="#151515" stroke-width="2.5" />
<path d="M580.8 291.1 L585.8 288.7 L602.9 287.6 L607.8 286.2" fill="none" stroke="#151515" stroke-width="2.3" />
<path d="M585.8 288.7 L587.4 295.6" fill="none" stroke="#151515" stroke-width="2.0" />
<path d="M602.9 287.6 L603.4 291.7" fill="none" stroke="#151515" stroke-width="2.0" />
<ellipse cx="588.2" cy="285.2" rx="3" ry="1.6" transform="rotate(-8 588.2 285.2)" fill="none" stroke="#151515" stroke-width="2.0" />
<path d="M636.9 263.4 L639.8 258.7 L646.4 255.5 L672.8 270.9 L672.8 306 L658.6 311.5 L651.1 312.2 L644.4 307.7 L644.1 300.2 L648.6 290.1 L646.9 275.9 Z" fill="#fff" stroke="#fff" stroke-width="0.5" />
<path d="M672.8 271.1 L646.4 255.5 L639.8 258.7" fill="none" stroke="#151515" stroke-width="2.4" />
<path d="M636.9 263.4 L658.6 277.8 L672.8 271.1" fill="none" stroke="#151515" stroke-width="2.4" />
<path d="M658.6 277.8 L658.6 311.2 L672.8 305.2" fill="none" stroke="#151515" stroke-width="2.4" />
<path d="M654.5 280.4 L654.5 307.5" fill="none" stroke="#151515" stroke-width="2.0" />
<path d="M636.9 265.1 C637.9 265.9 641.1 268.3 642.8 270.1 C644.4 271.9 645.9 273.7 646.9 275.9 C648 278.2 648.7 280.9 649 283.4 C649.2 285.9 649.1 288.6 648.6 291 C648.1 293.3 646.5 296 645.8 297.6 C645 299.3 644.4 299.5 644.1 300.8 C643.8 302.1 643.8 304.1 644.1 305.5 C644.4 306.9 645 308.3 646.1 309.3 C647.2 310.4 648.8 311.4 650.6 312 C652.4 312.6 655.6 313.2 657 313 C658.3 312.9 658.4 311.5 658.6 311.2" fill="none" stroke="#151515" stroke-width="2.4" />
<path d="M625.2 259.2 L636.9 253.4 L641.4 257 L630.2 263.4 Z" fill="#fff" stroke="#151515" stroke-width="2.4" />
<path d="M625.2 259.2 C625.5 259.8 626.9 264.1 627.7 265.4 C628.5 266.6 632.2 271.2 633.1 271.7 C634 272.3 636.2 271.6 636.8 271.1 C637.3 270.6 638.9 267.5 638.8 266.7 C638.6 265.9 635.9 263.4 635.6 263.1" fill="none" stroke="#151515" stroke-width="2.4" />
<path d="M630.2 263.4 L635.3 270.4" fill="none" stroke="#151515" stroke-width="1.8" />
<ellipse cx="649.6" cy="304.5" rx="5.3" ry="6.4" transform="rotate(-15 649.6 304.5)" fill="#151515" stroke="#151515" stroke-width="1.5" />
<g transform="translate(621.2 318.5) rotate(-23)">
<rect x="-7.6" y="-3.1" width="15.2" height="6.2" rx="1.6" fill="#151515" stroke="#151515" stroke-width="0.8"/>
</g>
<line x1="629.3" y1="315" x2="644.3" y2="308.2" stroke="#151515" stroke-width="1.3" />
<g transform="translate(592 575.6) rotate(12.5)">
<rect x="-20.3" y="-8.6" width="40.6" height="17.2" rx="4.5" fill="#fff" stroke="#151515" stroke-width="3.8"/>
<path d="M15.5 -7.5 Q12.5 0 14.5 7.5" stroke="#151515" stroke-width="2" fill="none"/>
</g>
<path d="M613 579.3 C614.2 579.3 617.7 579.1 619.9 579.3 C622 579.6 624 580 626.1 580.8 C628.2 581.5 630.2 582.4 632.4 583.6 C634.7 584.8 636.9 586.3 639.6 587.9 C642.3 589.6 645.3 591.3 648.6 593.3 C651.9 595.3 657.6 598.9 659.4 600" fill="none" stroke="#151515" stroke-width="3.6" />
</svg>
</body></html>
